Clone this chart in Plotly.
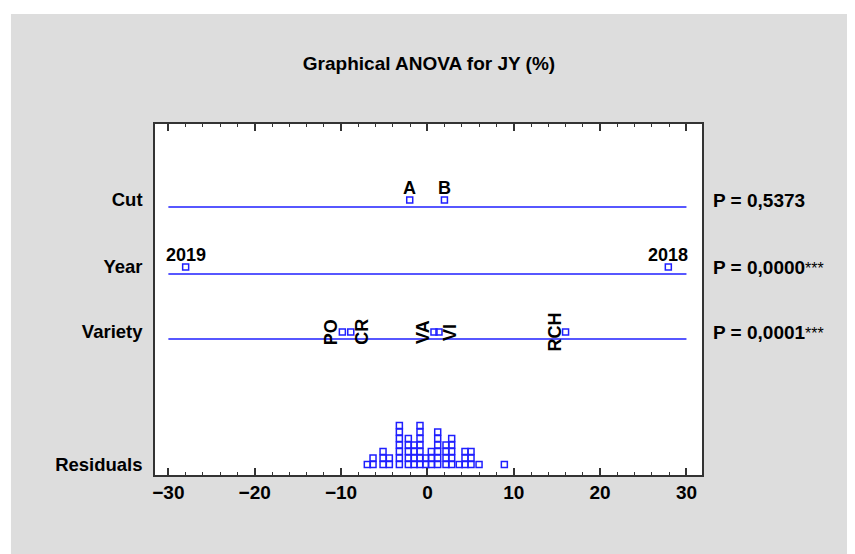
import plotly.graph_objects as go

# factor level effects (deviation from grand mean, % units)
cut_levels = ["A", "B"]
cut_effects = [-2.05, 1.97]
year_levels = ["2019", "2018"]
year_effects = [-28.0, 27.9]
variety_levels = ["PO", "CR", "VA", "VI", "RCH"]
variety_effects = [-9.85, -8.88, 0.76, 1.34, 16.0]

# residuals, shown as a dot histogram: column centre and number of points
resid_centres = [-6.96, -6.30, -5.14, -4.41, -3.25, -2.21, -1.55, -0.86, -0.20,
                 0.45, 1.19, 2.15, 2.81, 3.69, 4.35, 5.05, 5.98, 8.91]
resid_counts = [1, 2, 3, 2, 7, 5, 4, 7, 2, 3, 6, 4, 5, 1, 3, 3, 1, 1]

p_values = ["P = 0,5373", "P = 0,0000", "P = 0,0001"]
p_stars = ["", "***", "***"]
row_names = ["Cut", "Year", "Variety", "Residuals"]

# layout constants (y axis in pixel-like units, 0 = bottom of plot)
X_LO, X_HI = -30, 30
ROW_Y = [275, 208, 143, 10]          # marker / label level per row
LINE_DROP = 7                        # blue line sits a bit below the squares
RESID_BASE, RESID_STEP = 10.5, 6.5
BLUE = "#1f1fff"
FONT = "Arial, Liberation Sans, sans-serif"
PAGE = 8                             # browser body margin

fig = go.Figure()

factors = [(cut_levels, cut_effects), (year_levels, year_effects),
           (variety_levels, variety_effects)]

for i, (levels, effects) in enumerate(factors):
    y0 = ROW_Y[i]
    fig.add_trace(go.Scatter(x=[X_LO, X_HI], y=[y0 - LINE_DROP] * 2, mode="lines",
                             line=dict(color=BLUE, width=1.5), hoverinfo="skip"))
    fig.add_trace(go.Scatter(x=effects, y=[y0] * len(effects), mode="markers",
                             marker=dict(symbol="square-open", size=6, color=BLUE,
                                         line=dict(width=1.5, color=BLUE))))

# residual dot stacks
rx, ry = [], []
for c, n in zip(resid_centres, resid_counts):
    for k in range(n):
        rx.append(c)
        ry.append(RESID_BASE + k * RESID_STEP)
fig.add_trace(go.Scatter(x=rx, y=ry, mode="markers",
                         marker=dict(symbol="square-open", size=6, color=BLUE,
                                     line=dict(width=1.5, color=BLUE))))

lab_font = dict(family=FONT, size=18, color="black", weight="bold")
annots = []
# horizontal labels above squares for Cut and Year
for i in (0, 1):
    levels, effects = factors[i]
    for name, x in zip(levels, effects):
        annots.append(dict(x=x, y=ROW_Y[i], xref="x", yref="y", text=name,
                           showarrow=False, yshift=12, font=lab_font))
# rotated labels beside squares for Variety
side = [-1, 1, -1, 1, -1]
for name, x, s in zip(variety_levels, variety_effects, side):
    annots.append(dict(x=x, y=ROW_Y[2], xref="x", yref="y", text=name,
                       showarrow=False, textangle=-90, xshift=11 * s, font=lab_font))
# p values on the right
for i, (p, st) in enumerate(zip(p_values, p_stars)):
    txt = p + (f"<span style='font-weight:normal;font-size:16px'>{st}</span>" if st else "")
    annots.append(dict(x=1.016, y=ROW_Y[i], xref="paper", yref="y", text=txt,
                       showarrow=False, xanchor="left",
                       font=dict(family=FONT, size=19, color="black", weight="bold")))

fig.update_layout(
    width=855, height=554,
    margin=dict(l=155 - PAGE, r=153 + PAGE, t=124 - PAGE, b=79 + PAGE),
    paper_bgcolor="white", plot_bgcolor="white",
    showlegend=False,
    title=dict(text="Graphical ANOVA for JY (%)", x=(429 - PAGE) / 855, xanchor="center",
               y=1 - (63 - PAGE) / 554, yanchor="middle",
               font=dict(family=FONT, size=19, color="black", weight="bold")),
    annotations=annots,
    shapes=[
        dict(type="rect", xref="paper", yref="paper", x0=-0.2633, x1=1.3, y0=-0.3, y1=1.3134,
             fillcolor="#dddddd", line=dict(width=0), layer="below"),
        dict(type="rect", xref="paper", yref="paper", x0=0, x1=1, y0=0, y1=1,
             fillcolor="white", line=dict(width=0), layer="below"),
    ],
)

fig.update_xaxes(range=[-31.55, 31.8], tick0=0, dtick=10, ticks="inside", ticklen=7,
                 tickwidth=1.5, tickcolor="#333",
                 minor=dict(dtick=2, ticks="inside", ticklen=3, tickcolor="#333", tickwidth=1),
                 showline=True, linecolor="#333", linewidth=1.5, mirror="ticks",
                 showgrid=False, zeroline=False, ticklabelstandoff=-1,
                 tickfont=dict(family=FONT, size=19, color="black", weight="bold"))
fig.update_yaxes(range=[0, 351], tickvals=ROW_Y, ticktext=row_names, ticks="",
                 showline=True, linecolor="#333", linewidth=1.5, mirror=True,
                 showgrid=False, zeroline=False, ticklabelstandoff=7,
                 tickfont=dict(family=FONT, size=18.5, color="black", weight="bold"))

fig.write_html("out.html")
